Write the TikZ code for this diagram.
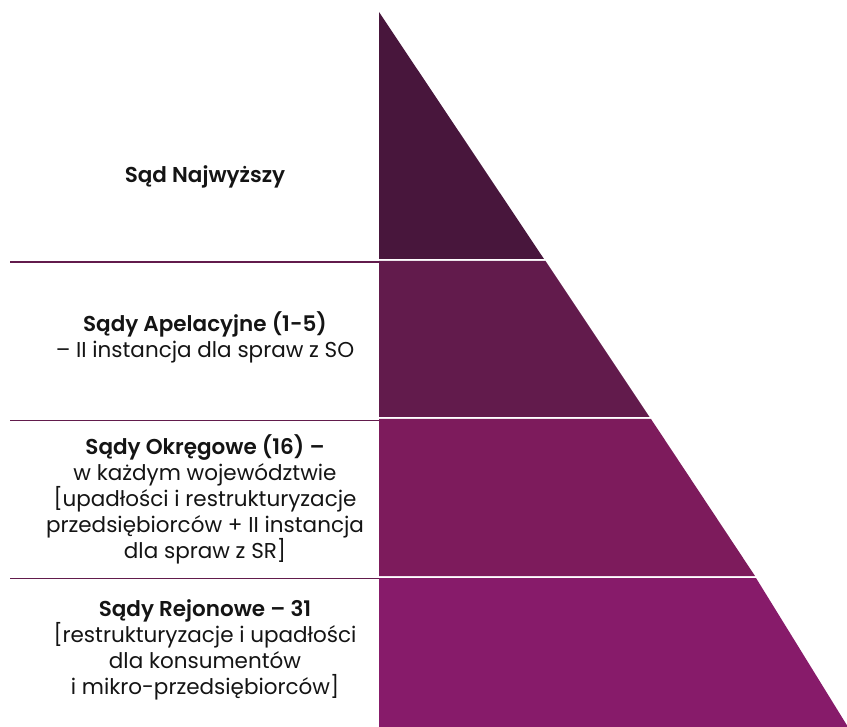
\documentclass[tikz,border=0pt]{standalone}
\usepackage{fontspec}
\setmainfont{Poppins}[BoldFont={Poppins SemiBold}]
\usepackage{xcolor}
\usetikzlibrary{positioning}

\definecolor{courtA}{HTML}{48163C}
\definecolor{courtB}{HTML}{621B4C}
\definecolor{courtC}{HTML}{7D1B5C}
\definecolor{courtD}{HTML}{871B6A}

\begin{document}
\begin{tikzpicture}[
  x=1pt, y=-1pt,
  courtlabel/.style={align=center, text=black!92, inner sep=0pt,
    font=\fontsize{21.5}{26}\selectfont},
  sepline/.style={draw=courtB, line width=1.6pt}
]
\useasboundingbox (0,0) rectangle (847,727);

% pyramid bands
\fill[courtA] (379,12) -- (544,259) -- (379,259) -- cycle;
\fill[courtB] (379,261) -- (545.5,261) -- (649.5,417) -- (379,417) -- cycle;
\fill[courtC] (379,419) -- (651,419) -- (755,576) -- (379,576) -- cycle;
\fill[courtD] (379,578) -- (756,578) -- (848,727) -- (379,727) -- cycle;

% separators on the left
\draw[sepline] (10,262) -- (379,262);
\draw[sepline] (10,420.5) -- (379,420.5);
\draw[sepline] (10,578.5) -- (379,578.5);

% labels
\node[courtlabel] (sn) at (205,177) {\textbf{Sąd Najwyższy}};
\node[courtlabel] (sa) at (205,337) {\textbf{Sądy Apelacyjne (1-5)}\\– II instancja dla spraw z SO};
\node[courtlabel] (so) at (205,499) {\textbf{Sądy Okręgowe (16) –}\\w każdym województwie\\{[}upadłości i restrukturyzacje\\przedsiębiorców + II instancja\\dla spraw z SR]};
\node[courtlabel] (sr) at (205,650) {\textbf{Sądy Rejonowe – 31}\\{[}restrukturyzacje i upadłości\\dla konsumentów\\i mikro-przedsiębiorców]};
\end{tikzpicture}
\end{document}
